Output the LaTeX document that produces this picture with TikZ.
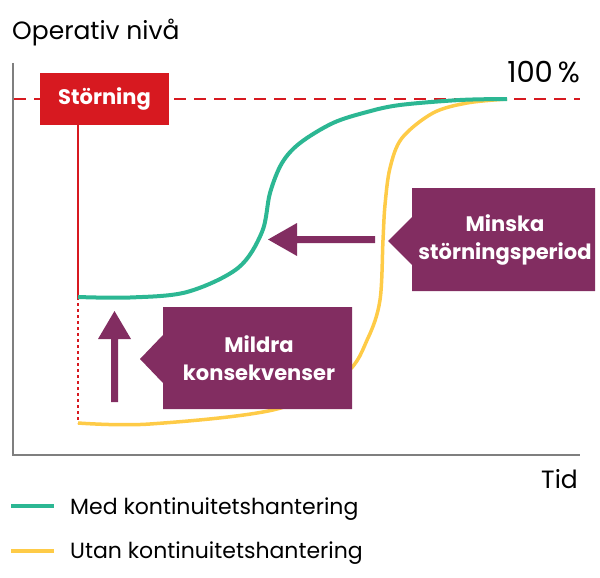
\documentclass[tikz,border=0pt]{standalone}
\usepackage{fontspec}
\setmainfont{Poppins}
\definecolor{stred}{HTML}{D71920}
\definecolor{stpurple}{HTML}{822D61}
\definecolor{stgreen}{HTML}{2CB793}
\definecolor{styellow}{HTML}{FECB47}
\definecolor{staxis}{HTML}{7F7F7F}
\begin{document}
\begin{tikzpicture}[x=1pt,y=-1pt,
  lab/.style={inner sep=0pt,font=\fontsize{22}{26}\selectfont},
  biglab/.style={inner sep=0pt,font=\fontsize{25}{30}\selectfont},
  boldlab/.style={inner sep=0pt,text=white,align=center,font=\fontsize{21}{28}\selectfont\bfseries},
  axisline/.style={draw=staxis,line width=1.5pt},
  refline/.style={draw=stred,line width=1.2pt,dash pattern=on 12pt off 8pt},
  greencurve/.style={draw=stgreen,line width=4pt},
  yellowcurve/.style={draw=styellow,line width=3.5pt},
  callout/.style={fill=stpurple},
]
\useasboundingbox (0,0) rectangle (600,578);
% axes
\coordinate (ytop) at (13,63);
\coordinate (origin) at (13,455);
\coordinate (xend) at (580,455);
\draw[axisline] (ytop) -- (origin) -- (xend);
% 100% line
\coordinate (ref0) at (14,99);
\coordinate (ref1) at (580,99);
\draw[refline] (ref0) -- (ref1);
% disruption line
\coordinate (d0) at (78,125);
\coordinate (d1) at (78,297);
\coordinate (d2) at (78,423);
\draw[stred,line width=1.3pt] (d0) -- (d1);
\draw[stred,line width=1.1pt,dash pattern=on 3pt off 3pt] (d1) -- (d2);
% curves
\draw[yellowcurve] plot[smooth,tension=0.55] coordinates {(78,423) (150,424) (277,409) (345,374) (368,338) (380,300) (383,240) (385,205) (390,168) (402,138) (433,113) (467,103) (507,99)};
\draw[greencurve] plot[smooth,tension=0.55] coordinates {(78,297) (130,297.5) (187,292) (238,268) (262,232) (270,193) (282,163) (300,143) (333,123) (367,112) (400,105) (460,100) (507,99)};
% Störning label
\node[fill=stred,minimum width=129pt,minimum height=52pt,boldlab] (storn) at (104.5,99) {Störning};
% horizontal arrow
\fill[stpurple] (268,239.5) -- (297,223) -- (297,236) -- (375,236) -- (375,243) -- (297,243) -- (297,256) -- cycle;
% vertical arrow
\fill[stpurple] (114.5,311) -- (131,339) -- (118,339) -- (118,402) -- (111,402) -- (111,339) -- (98,339) -- cycle;
% callouts
\fill[callout] (412,188) -- (595,188) -- (595,291) -- (412,291) -- (412,265) -- (388,241) -- (412,217) -- cycle;
\node[boldlab] (minska) at (505,240) {Minska\\störningsperiod};
\fill[callout] (163,307) -- (352,307) -- (352,409) -- (163,409) -- (163,383) -- (140,359) -- (163,335) -- cycle;
\node[boldlab] (mildra) at (259,358) {Mildra\\konsekvenser};
% texts
\node[biglab,anchor=base west] (ylab) at (12,40) {Operativ nivå};
\node[biglab,anchor=base east,font=\fontsize{29}{32}\selectfont] (pct) at (580,83) {100\,\%};
\node[biglab,anchor=base east] (tid) at (578,488) {Tid};
% legend
\coordinate (g1) at (11,506);
\coordinate (g2) at (54,506);
\draw[greencurve,line width=3.5pt] (g1) -- (g2);
\node[lab,anchor=base west] (medlab) at (70,514) {Med kontinuitetshantering};
\coordinate (y1) at (11,551);
\coordinate (y2) at (54,551);
\draw[yellowcurve] (y1) -- (y2);
\node[lab,anchor=base west] (utanlab) at (70,558) {Utan kontinuitetshantering};
\end{tikzpicture}
\end{document}
